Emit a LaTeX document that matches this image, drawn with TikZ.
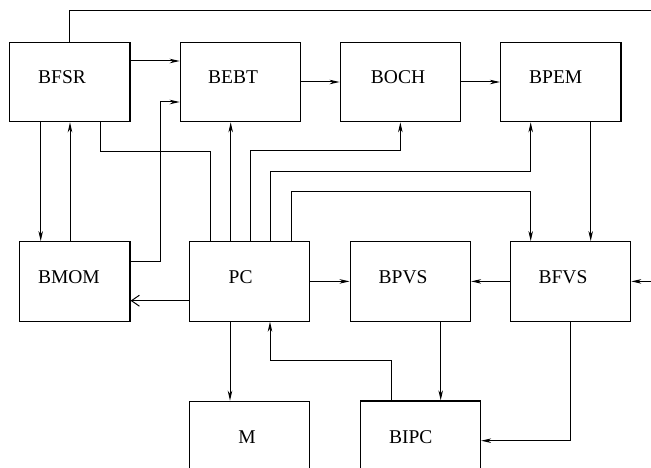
\documentclass[tikz,border=0pt]{standalone}
\usepackage{fontspec}
\setmainfont{Liberation Serif}
\usetikzlibrary{arrows.meta}
\begin{document}
\begin{tikzpicture}[x=1pt,y=-1pt,
  box/.style={draw,line width=1.1pt,minimum width=120.5pt,minimum height=79.5pt,inner sep=0pt},
  lbl/.style={font=\fontsize{19.5}{23}\selectfont,inner sep=0pt},
  conn/.style={line width=1pt},
  arr/.style={conn,-{Stealth[length=10pt,width=4.5pt,inset=3pt]}},
  oarr/.style={conn,-{Straight Barb[length=8pt,width=11pt]}}]
\clip (0,0) rectangle (651,468);
\fill[white] (0,0) rectangle (651,468);
% boxes
\node[box,label={[lbl,xshift=-7.7pt,yshift=5pt]center:BFSR}] (bfsr) at (69.75,82) {};
\node[box,label={[lbl,xshift=-7.5pt,yshift=5pt]center:BEBT}] (bebt) at (240.5,82) {};
\node[box,label={[lbl,xshift=-2.3pt,yshift=5pt]center:BOCH}] (boch) at (400.35,82) {};
\node[box,label={[lbl,xshift=-5pt,yshift=5pt]center:BPEM}] (bpem) at (560.7,82) {};
\node[box,minimum width=110.7pt,label={[lbl,xshift=-5.7pt,yshift=4.7pt]center:BMOM}] (bmom) at (74.65,281.4) {};
\node[box,label={[lbl,xshift=-9pt,yshift=4.7pt]center:PC}] (pc) at (249.65,281.4) {};
\node[box,label={[lbl,xshift=-7.3pt,yshift=4.7pt]center:BPVS}] (bpvs) at (410.35,281.4) {};
\node[box,label={[lbl,xshift=-7.5pt,yshift=4.7pt]center:BFVS}] (bfvs) at (570.5,281.4) {};
\node[box,label={[lbl,xshift=-2.7pt,yshift=4.3pt]center:M}] (m) at (249.65,441) {};
\node[box,label={[lbl,xshift=-9.6pt,yshift=4pt]center:BIPC}] (bipc) at (420.35,440.7) {};
% connectors
\draw[arr] (bfsr.north) |- (670,11) |- (bfvs.east);
\draw[arr] (bfsr.east |- 0,61) -- (bebt.west |- 0,61);
\draw[arr] (bmom.east |- 0,261) -| (160,102) -- (bebt.west |- 0,102);
\draw[arr] (bebt.east) -- (boch.west);
\draw[arr] (boch.east) -- (bpem.west);
\draw[arr] (bfsr.south -| 40.7,0) -- (bmom.north -| 40.7,0);
\draw[arr] (bmom.north -| 70,0) -- (bfsr.south -| 70,0);
\draw[conn] (bfsr.south -| 100.7,0) |- (210.7,152) -- (pc.north -| 210.7,0);
\draw[arr] (pc.north -| 230.7,0) -- (bebt.south -| 230.7,0);
\draw[arr] (pc.north -| 250.7,0) |- (boch.south |- 0,150.7) -- (boch.south);
\draw[arr] (pc.north -| 270.7,0) |- (530.7,171.7) -- (bpem.south -| 530.7,0);
\draw[arr] (pc.north -| 291.7,0) |- (530.7,191.7) -- (bfvs.north -| 530.7,0);
\draw[arr] (bpem.south -| 590.7,0) -- (bfvs.north -| 590.7,0);
\draw[oarr] (pc.west |- 0,300.7) -- (bmom.east |- 0,300.7);
\draw[arr] (pc.east) -- (bpvs.west);
\draw[arr] (bfvs.west) -- (bpvs.east);
\draw[arr] (pc.south -| 230,0) -- (m.north -| 230,0);
\draw[arr] (bpvs.south -| 440.7,0) -- (bipc.north -| 440.7,0);
\draw[arr] (bfvs.south -| 570.7,0) |- (bipc.east);
\draw[arr] (bipc.north -| 391,0) |- (270,360.7) -- (pc.south -| 270,0);
\end{tikzpicture}
\end{document}
